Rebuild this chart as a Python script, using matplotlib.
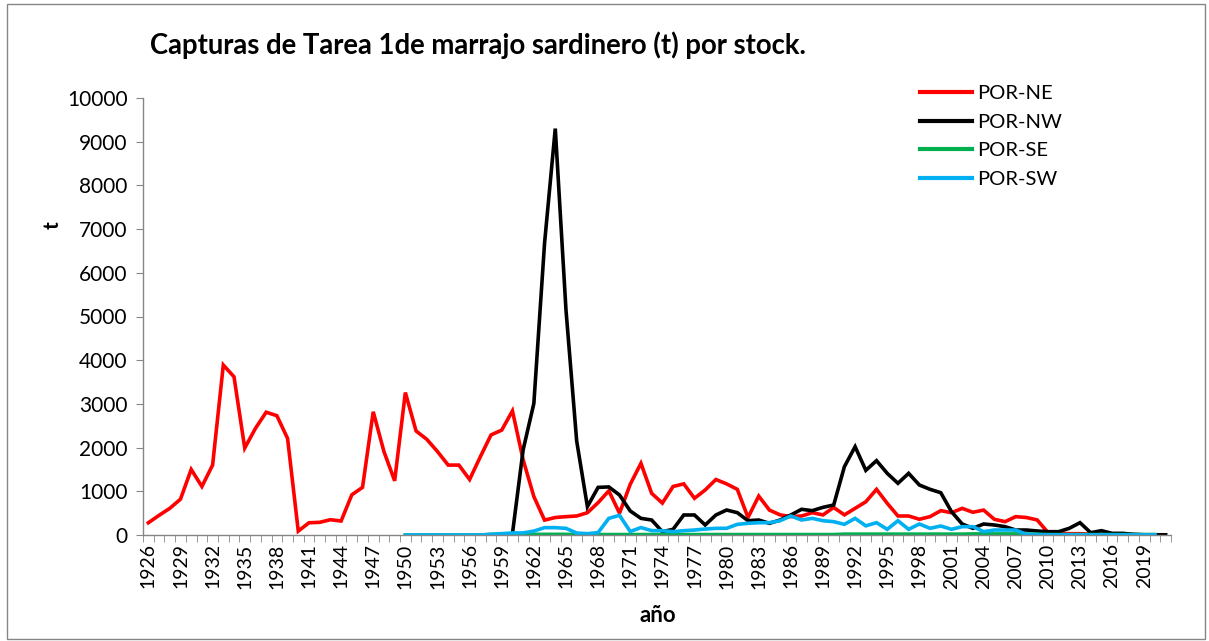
import numpy as np
import matplotlib
matplotlib.use("Agg")
import matplotlib.pyplot as plt
from matplotlib.patches import Rectangle

plt.rcParams['font.family'] = ['Lato', 'DejaVu Sans']

years = np.arange(1926, 2022)

# catches in tonnes, one value per year (nan = no data)
por_ne = [280, 450, 610, 820, 1500, 1110, 1600, 3890, 3620, 1990,
          2440, 2810, 2730, 2210, 90, 280, 290, 350, 320, 920,
          1090, 2820, 1910, 1240, 3260, 2380, 2190, 1910, 1600, 1600,
          1270, 1790, 2290, 2400, 2840, 1720, 880, 340, 400, 420,
          435, 510, 740, 1010, 500, 1160, 1640, 954, 730, 1110,
          1170, 840, 1030, 1270, 1170, 1045, 400, 890, 570, 460,
          420, 435, 510, 460, 630, 460, 610, 760, 1045, 725,
          435, 435, 360, 420, 557, 510, 610, 520, 570, 360,
          305, 420, 400, 345, 60, 40, 30, 30, 20, 20,
          15, 10, 10, 5, 5, np.nan]

por_nw = [np.nan] * 34 + [
          30, 1950, 3010, 6680, 9300, 5150, 2150, 650, 1090, 1100,
          915, 550, 381, 343, 76, 130, 458, 458, 229, 458,
          572, 511, 327, 343, 267, 343, 458, 588, 557, 633,
          686, 1564, 2021, 1480, 1701, 1411, 1183, 1411, 1144, 1045,
          968, 534, 252, 153, 252, 229, 191, 114, 114, 92,
          76, 76, 153, 282, 53, 99, 38, 38, 15, 5,
          5, 5]

por_se = [np.nan] * 24 + [
          0, 0, 0, 0, 0, 0, 0, 0, 15, 15,
          15, 15, 15, 15, 15, 15, 10, 10, 10, 10,
          10, 10, 10, 10, 10, 10, 10, 10, 10, 10,
          10, 10, 10, 10, 10, 10, 10, 10, 10, 10,
          10, 20, 20, 20, 20, 20, 20, 20, 20, 20,
          20, 20, 20, 25, 25, 25, 25, 25, 20, 20,
          10, 10, 10, 10, 10, 10, 10, 10, 10, 10,
          10, np.nan]

por_sw = [np.nan] * 24 + [
          0, 0, 0, 0, 0, 0, 0, 0, 15, 31,
          47, 47, 90, 168, 168, 153, 45, 30, 55, 381,
          450, 80, 170, 100, 99, 76, 99, 114, 137, 153,
          153, 244, 267, 282, 282, 327, 435, 343, 381, 327,
          305, 244, 381, 210, 282, 130, 327, 130, 252, 153,
          206, 130, 191, 191, 76, 114, 114, 114, 15, 5,
          5, 5, 5, 5, 5, 5, 5, 5, 5, 5,
          5, np.nan]

series = [("POR-NE", por_ne, "#FF0000"),
          ("POR-NW", por_nw, "#000000"),
          ("POR-SE", por_se, "#00B050"),
          ("POR-SW", por_sw, "#00B0F0")]

W, H = 1209, 641
fig = plt.figure(figsize=(W / 100, H / 100), dpi=100)
ax = fig.add_axes([143 / W, 1 - 535 / H, (1171 - 143) / W, (535 - 98) / H])

for name, vals, col in series:
    ax.plot(years, vals, color=col, lw=2.6, label=name, solid_joinstyle='miter')

ax.set_xlim(1925.5, 2021.5)
ax.set_ylim(0, 10000)
ax.set_yticks(np.arange(0, 10001, 1000))
ax.set_xticks(years[::3])
ax.set_xticks(np.arange(1925.5, 2022, 1), minor=True)
ax.set_xticklabels([str(y) for y in years[::3]], rotation=90, fontsize=14)
ax.tick_params(axis='x', which='major', length=0, pad=6)
ax.tick_params(axis='x', which='minor', length=5, color='#868686', direction='out')
ax.tick_params(axis='y', length=5, color='#868686', direction='out', labelsize=15, pad=6)

for s in ['top', 'right']:
    ax.spines[s].set_visible(False)
for s in ['left', 'bottom']:
    ax.spines[s].set_color('#868686')
    ax.spines[s].set_linewidth(1)

fig.text(150 / W, 1 - 45 / H, "Capturas de Tarea 1de marrajo sardinero (t) por stock.",
         fontsize=19.8, fontweight='bold', ha='left', va='center')
fig.text(53 / W, 1 - 225 / H, "t", fontsize=15, fontweight='bold',
         rotation=90, ha='center', va='center')
fig.text(658 / W, 1 - 615 / H, "año", fontsize=16, fontweight='bold',
         ha='center', va='center')

leg = ax.legend(loc='upper left', bbox_to_anchor=(912 / W, 1 - 77 / H),
                bbox_transform=fig.transFigure, frameon=False, fontsize=14.5,
                handlelength=2.6, handletextpad=0.25, labelspacing=0.57,
                borderaxespad=0)
for ln in leg.get_lines():
    ln.set_linewidth(3)

fig.patches.append(Rectangle((7 / W, 2 / H), (W - 11) / W, (H - 6) / H,
                             transform=fig.transFigure, fill=False,
                             edgecolor='#868686', lw=1))

fig.savefig("out.png", dpi=100)
